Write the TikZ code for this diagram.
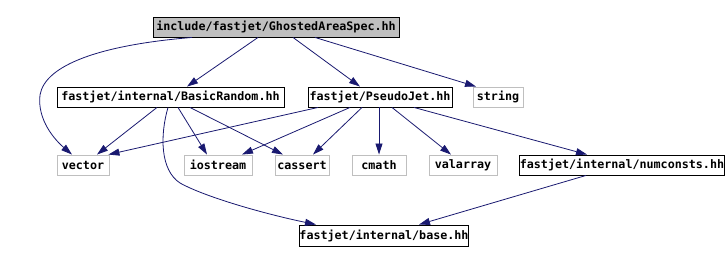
\documentclass[tikz,border=0pt]{standalone}
\usepackage{fontspec}
\setmonofont{DejaVu Sans Mono}
\usetikzlibrary{arrows.meta}
\definecolor{edgec}{RGB}{25,25,112}
\definecolor{grayb}{RGB}{191,191,191}
\tikzset{
  filebox/.style={draw=black, line width=0.9pt, inner sep=0pt, minimum height=20pt, font=\ttfamily\bfseries\fontsize{11.7pt}{12pt}\selectfont},
  sysbox/.style={filebox, draw=grayb},
  rootbox/.style={filebox, fill=grayb},
  dep/.style={draw=edgec, line width=0.8pt, -{Triangle[length=11pt,width=7pt]}, edgec},
}
\begin{document}
\begin{tikzpicture}[x=1pt,y=-1pt]
\useasboundingbox (0,0) rectangle (728,262);
\node[rootbox, minimum width=246pt] (root) at (276,27) {include/fastjet/GhostedAreaSpec.hh};
\node[filebox, minimum width=227pt] (br) at (170.5,97) {fastjet/internal/BasicRandom.hh};
\node[filebox, minimum width=144pt] (pj) at (380,97) {fastjet/PseudoJet.hh};
\node[sysbox, minimum width=50pt] (string) at (498,97) {string};
\node[sysbox, minimum width=52pt] (vector) at (83,165) {vector};
\node[sysbox, minimum width=68pt] (iostream) at (218,165) {iostream};
\node[sysbox, minimum width=54pt] (cassert) at (302,165) {cassert};
\node[sysbox, minimum width=54pt] (cmath) at (379,165) {cmath};
\node[sysbox, minimum width=68pt] (valarray) at (463,165) {valarray};
\node[filebox, minimum width=202pt] (numconsts) at (622,165) {fastjet/internal/numconsts.hh};
\node[filebox, minimum width=162pt, minimum height=21pt] (base) at (384,235.5) {fastjet/internal/base.hh};

\draw[dep] ([xshift=-18pt]root.south) -- ([xshift=16.5pt]br.north);
\draw[dep] ([xshift=17pt]root.south) -- ([xshift=-20pt]pj.north);
\draw[dep] ([xshift=39pt]root.south) -- ([xshift=-22pt]string.north);
\draw[dep] ([xshift=-84pt]root.south) .. controls (100,45) and (45,65) .. (40,95)
  .. controls (37,120) and (55,140) .. ([xshift=-11pt]vector.north);

\draw[dep] ([xshift=-13.5pt]br.south) -- ([xshift=14pt]vector.north);
\draw[dep] ([xshift=7.5pt]br.south) -- ([xshift=-11pt]iostream.north);
\draw[dep] ([xshift=19.5pt]br.south) -- ([xshift=-19pt]cassert.north);
\draw[dep] ([xshift=-2.5pt]br.south) .. controls (160,135) and (160,170) .. (180,183)
  .. controls (205,197) and (265,214) .. ([xshift=-68pt]base.north);

\draw[dep] ([xshift=-62pt]pj.south) -- ([xshift=-1pt]vector.north east);
\draw[dep] ([xshift=-30pt]pj.south) -- ([xshift=24pt]iostream.north);
\draw[dep] ([xshift=-18pt]pj.south) -- ([xshift=11pt]cassert.north);
\draw[dep] (pj.south -| cmath.north) -- (cmath.north);
\draw[dep] ([xshift=12pt]pj.south) -- ([xshift=-12pt]valarray.north);
\draw[dep] ([xshift=34pt]pj.south) -- ([xshift=-35pt]numconsts.north);

\draw[dep] ([xshift=-36pt]numconsts.south) -- ([xshift=35pt]base.north);
\end{tikzpicture}
\end{document}
